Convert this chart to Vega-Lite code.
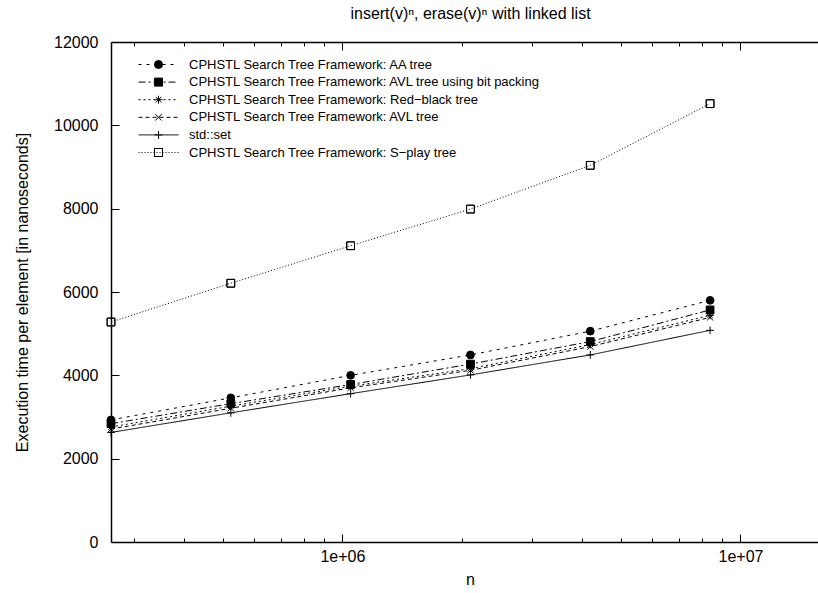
{
  "$schema": "https://vega.github.io/schema/vega-lite/v6.json",
  "width": 707,
  "height": 500,
  "autosize": {"type": "none"},
  "padding": {"left": 111, "top": 42, "right": 0, "bottom": 51},
  "background": "white",
  "title": {
    "text": "insert(v)ⁿ, erase(v)ⁿ with linked list",
    "font": "Liberation Sans",
    "fontSize": 16,
    "fontWeight": "normal",
    "color": "black",
    "anchor": "middle",
    "dx": 6,
    "offset": 12
  },
  "config": {
    "view": {"stroke": null},
    "font": "Liberation Sans",
    "axis": {
      "domainColor": "black",
      "domainWidth": 1.5,
      "tickColor": "black",
      "tickWidth": 1,
      "grid": false,
      "labelColor": "black",
      "labelFont": "Liberation Sans",
      "labelFontSize": 16,
      "titleColor": "black",
      "titleFont": "Liberation Sans",
      "titleFontSize": 16,
      "titleFontWeight": "normal"
    }
  },
  "data": {
    "values": [
      {"series": "CPHSTL Search Tree Framework: AA tree", "n": 262144, "t": 2930},
      {"series": "CPHSTL Search Tree Framework: AA tree", "n": 524288, "t": 3460},
      {"series": "CPHSTL Search Tree Framework: AA tree", "n": 1048576, "t": 4000},
      {"series": "CPHSTL Search Tree Framework: AA tree", "n": 2097152, "t": 4490},
      {"series": "CPHSTL Search Tree Framework: AA tree", "n": 4194304, "t": 5060},
      {"series": "CPHSTL Search Tree Framework: AA tree", "n": 8388608, "t": 5800},
      {"series": "CPHSTL Search Tree Framework: AVL tree using bit packing", "n": 262144, "t": 2840},
      {"series": "CPHSTL Search Tree Framework: AVL tree using bit packing", "n": 524288, "t": 3320},
      {"series": "CPHSTL Search Tree Framework: AVL tree using bit packing", "n": 1048576, "t": 3780},
      {"series": "CPHSTL Search Tree Framework: AVL tree using bit packing", "n": 2097152, "t": 4270},
      {"series": "CPHSTL Search Tree Framework: AVL tree using bit packing", "n": 4194304, "t": 4810},
      {"series": "CPHSTL Search Tree Framework: AVL tree using bit packing", "n": 8388608, "t": 5570},
      {"series": "CPHSTL Search Tree Framework: Red−black tree", "n": 262144, "t": 2760},
      {"series": "CPHSTL Search Tree Framework: Red−black tree", "n": 524288, "t": 3260},
      {"series": "CPHSTL Search Tree Framework: Red−black tree", "n": 1048576, "t": 3740},
      {"series": "CPHSTL Search Tree Framework: Red−black tree", "n": 2097152, "t": 4160},
      {"series": "CPHSTL Search Tree Framework: Red−black tree", "n": 4194304, "t": 4740},
      {"series": "CPHSTL Search Tree Framework: Red−black tree", "n": 8388608, "t": 5440},
      {"series": "CPHSTL Search Tree Framework: AVL tree", "n": 262144, "t": 2710},
      {"series": "CPHSTL Search Tree Framework: AVL tree", "n": 524288, "t": 3210},
      {"series": "CPHSTL Search Tree Framework: AVL tree", "n": 1048576, "t": 3700},
      {"series": "CPHSTL Search Tree Framework: AVL tree", "n": 2097152, "t": 4120},
      {"series": "CPHSTL Search Tree Framework: AVL tree", "n": 4194304, "t": 4690},
      {"series": "CPHSTL Search Tree Framework: AVL tree", "n": 8388608, "t": 5390},
      {"series": "std::set", "n": 262144, "t": 2630},
      {"series": "std::set", "n": 524288, "t": 3100},
      {"series": "std::set", "n": 1048576, "t": 3560},
      {"series": "std::set", "n": 2097152, "t": 4010},
      {"series": "std::set", "n": 4194304, "t": 4490},
      {"series": "std::set", "n": 8388608, "t": 5080},
      {"series": "CPHSTL Search Tree Framework: S−play tree", "n": 262144, "t": 5280},
      {"series": "CPHSTL Search Tree Framework: S−play tree", "n": 524288, "t": 6210},
      {"series": "CPHSTL Search Tree Framework: S−play tree", "n": 1048576, "t": 7110},
      {"series": "CPHSTL Search Tree Framework: S−play tree", "n": 2097152, "t": 7990},
      {"series": "CPHSTL Search Tree Framework: S−play tree", "n": 4194304, "t": 9040},
      {"series": "CPHSTL Search Tree Framework: S−play tree", "n": 8388608, "t": 10520}
    ]
  },
  "layer": [
    {
      "mark": {"type": "line", "color": "black", "strokeWidth": 1},
      "encoding": {
        "x": {
          "field": "n",
          "type": "quantitative",
          "scale": {"type": "log", "domain": [262144, 15660000], "nice": false},
          "axis": {
            "orient": "bottom",
            "title": "n",
            "titleX": 359,
            "titlePadding": 3,
            "values": [300000, 400000, 500000, 600000, 700000, 800000, 900000, 1000000, 2000000, 3000000, 4000000, 5000000, 6000000, 7000000, 8000000, 9000000, 10000000],
            "labelExpr": "datum.value == 1000000 ? '1e+06' : (datum.value == 10000000 ? '1e+07' : '')",
            "tickSize": {"condition": {"test": "datum.value == 1000000 || datum.value == 10000000", "value": -8}, "value": -4},
            "labelPadding": 14,
            "labelFlush": false,
            "labelOverlap": false
          }
        },
        "y": {
          "field": "t",
          "type": "quantitative",
          "scale": {"domain": [0, 12000], "nice": false},
          "axis": {
            "title": "Execution time per element [in nanoseconds]",
            "values": [0, 2000, 4000, 6000, 8000, 10000, 12000],
            "format": "d",
            "tickSize": -8,
            "labelPadding": 21,
            "titlePadding": 23
          }
        },
        "strokeDash": {
          "field": "series",
          "type": "nominal",
          "scale": {
            "domain": [
              "CPHSTL Search Tree Framework: AA tree",
              "CPHSTL Search Tree Framework: AVL tree using bit packing",
              "CPHSTL Search Tree Framework: Red−black tree",
              "CPHSTL Search Tree Framework: AVL tree",
              "std::set",
              "CPHSTL Search Tree Framework: S−play tree"
            ],
            "range": [[3, 5], [7, 3, 2, 3], [2, 3], [4, 3], [1, 0], [1, 2]]
          },
          "legend": {
            "orient": "none",
            "legendX": 41,
            "legendY": 16,
            "title": null,
            "padding": 0,
            "symbolType": "M-5,0L5,0",
            "symbolSize": 64,
            "symbolStrokeWidth": 1,
            "symbolStrokeColor": "black",
            "symbolFillColor": "transparent",
            "labelFont": "Liberation Sans",
            "labelFontSize": 13,
            "labelColor": "black",
            "labelOffset": 24,
            "labelLimit": 0,
            "rowPadding": 3.6
          }
        }
      }
    },
    {
      "mark": {"type": "point", "filled": true, "color": "black", "fill": "black", "stroke": "black", "strokeWidth": 1, "size": 60, "opacity": 1},
      "encoding": {
        "x": {
          "field": "n",
          "type": "quantitative",
          "axis": {
            "orient": "top",
            "title": null,
            "labels": false,
            "values": [300000, 400000, 500000, 600000, 700000, 800000, 900000, 1000000, 2000000, 3000000, 4000000, 5000000, 6000000, 7000000, 8000000, 9000000, 10000000],
            "tickSize": {"condition": {"test": "datum.value == 1000000 || datum.value == 10000000", "value": -8}, "value": -4}
          }
        },
        "y": {"field": "t", "type": "quantitative"},
        "shape": {
          "field": "series",
          "type": "nominal",
          "sort": null,
          "scale": {
            "range": [
              "circle",
              "square",
              "M-1,0L1,0M0,-1L0,1M-0.7,-0.7L0.7,0.7M-0.7,0.7L0.7,-0.7",
              "M-0.8,-0.8L0.8,0.8M-0.8,0.8L0.8,-0.8",
              "M-1,0L1,0M0,-1L0,1",
              "M-1,-1L1,-1L1,1L-1,1L-1,-1L-1,1L1,1L1,-1L-1,-1"
            ]
          },
          "legend": {
            "orient": "none",
            "legendX": 41,
            "legendY": 16,
            "title": null,
            "padding": 0,
            "symbolSize": 64,
            "symbolStrokeWidth": 1,
            "symbolOpacity": 1,
            "labelFont": "Liberation Sans",
            "labelFontSize": 13,
            "labelOpacity": 0,
            "labelOffset": 24,
            "labelLimit": 0,
            "rowPadding": 3.6
          }
        }
      }
    }
  ],
  "resolve": {"axis": {"x": "independent"}}
}
